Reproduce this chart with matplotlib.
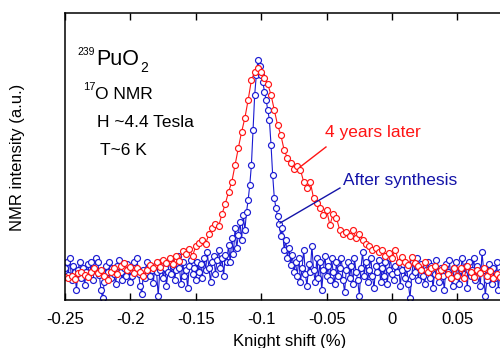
import numpy as np
import matplotlib
matplotlib.use("Agg")
import matplotlib.pyplot as plt

plt.rcParams['font.family'] = ['Liberation Sans', 'DejaVu Sans']
plt.rcParams['axes.unicode_minus'] = False

# Knight shift range of both spectra (%)
shift_start, shift_end = -0.25, 0.0825

# 17O NMR intensity, after synthesis (blue)
after_synthesis = [
    32, 38, 25, 42, 20, 34, 28, 10, 30, 38, 22, 32, 15, 28, 36, 24, 38, 20, 30, 42,
    38, 25, 10, 2, 18, 34, 28, 38, 22, 32, 26, 16, 34, 40, 28, 20, 32, 24, 36, 30,
    18, 24, 38, 32, 42, 26, 14, 6, 30, 22, 38, 32, 24, 30, 17, 34, 28, 4,
    30, 38, 22, 32, 14, 28, 40, 26, 34, 20, 30, 44, 32, 16, 38, 24, 30, 12, 34, 40,
    26, 32, 20, 38, 28,
    36, 22, 42, 30, 48, 32, 18, 38, 44, 26, 40, 50, 32, 42, 24, 45, 38,
    55, 38, 62, 46, 72, 52, 65, 78, 60, 85, 70, 88, 100, 115, 135, 170, 205, 225, 240, 234,
    225, 218, 208, 200, 190, 180, 155, 125, 102, 92, 84, 76, 64, 72, 50, 60, 42, 52, 35, 45,
    28,
    38, 24, 42, 18, 32, 50, 26, 14, 36, 28,
    54, 30, 18, 42, 22, 38, 10, 30, 44, 24,
    34, 20, 42, 28, 16, 38, 24, 32, 42, 20,
    8, 30, 38, 22, 34, 16, 42, 28, 20, 4,
    32, 48, 24, 38, 18, 30, 42, 24, 12, 34,
    28, 40, 18, 32, 24, 38, 16, 30, 42, 26,
    20, 34, 28, 38, 14, 30, 36, 22, 32, 16,
    2, 24, 38, 28, 42, 20, 32, 36, 24, 16,
    30, 38, 22, 34, 12, 26, 40, 28, 18, 32,
    24, 10, 36, 28, 40, 22, 14, 32, 38, 24,
    16, 30, 42, 26, 34, 12, 38, 24, 30, 42,
    20, 34, 28, 14, 48, 30, 4, 20, 36, 26,
    16, 32, 22, 38, 10, 28,
]

# 17O NMR intensity, 4 years later (red)
four_years = [
    23, 22, 24, 21, 27, 28, 25, 23, 28, 32,
    27, 30, 24, 20, 28, 32, 26, 34, 37, 30,
    33, 27, 32, 28, 24, 30, 35, 32, 38, 33,
    40, 37, 42, 36, 44, 39, 49, 46, 51, 44,
    54, 57, 60, 56, 66, 72, 76, 74, 86, 96,
    108, 118, 135, 152, 168, 182, 200, 220, 228, 232,
    228, 222, 216, 205, 190, 175, 165, 150, 142, 137,
    131, 134, 130, 118, 112, 118, 102, 97, 92, 85,
    90, 75, 86, 82, 70, 66, 68, 64, 70, 62,
    66, 60, 56, 54, 50, 52, 48, 50, 44, 47,
    42, 50, 38, 43, 38, 35, 43, 37, 34, 30,
    38, 28, 32, 34, 24, 30, 33, 26, 22, 32,
    24, 32, 22, 34, 28, 23, 30, 27, 32, 24,
    29, 22, 26, 23,
]

tick_values = [-0.25, -0.2, -0.15, -0.1, -0.05, 0, 0.05]
tick_labels = ['-0.25', '-0.2', '-0.15', '-0.1', '-0.05', '0', '0.05']

blue = '#1a1ad2'
blue_text = '#1414a8'
red = '#ff1414'

x_blue = np.linspace(shift_start, shift_end, len(after_synthesis))
x_red = np.linspace(shift_start, shift_end, len(four_years))

fig = plt.figure(figsize=(5, 3.48), dpi=100)
ax = fig.add_axes([0.13, 48 / 348, 0.9, 287 / 348])

ax.plot(x_blue, after_synthesis, '-o', color=blue, lw=0.8, ms=4.3,
        mfc='white', mec=blue, mew=0.85)
ax.plot(x_red, four_years, '-o', color=red, lw=0.8, ms=4.3,
        mfc='white', mec=red, mew=0.85)

ax.set_xlim(-0.25, 0.094)
ax.set_ylim(0, 287)
ax.set_xticks(tick_values)
ax.set_xticklabels(tick_labels)
ax.set_yticks([])
ax.tick_params(axis='x', direction='in', top=True, length=5, width=1,
               labelsize=12, pad=9)
for s in ['left', 'top', 'bottom']:
    ax.spines[s].set_linewidth(1.1)
ax.spines['right'].set_visible(False)
ax.set_xlabel('Knight shift (%)', fontsize=12, labelpad=5)

fig.text(18 / 500, 1 - 157 / 348, 'NMR intensity (a.u.)', rotation=90,
         ha='center', va='center', fontsize=12)

# sample labels, upper left
fig.text(77 / 500, 1 - 55 / 348, '239', fontsize=7.5, va='baseline')
fig.text(96 / 500, 1 - 65 / 348, 'PuO', fontsize=15.5, va='baseline')
fig.text(140 / 500, 1 - 72 / 348, '2', fontsize=10, va='baseline')
fig.text(83 / 500, 1 - 90 / 348, '17', fontsize=8, va='baseline')
fig.text(95 / 500, 1 - 99 / 348, 'O NMR', fontsize=12.5, va='baseline')
fig.text(97 / 500, 1 - 127 / 348, 'H ~4.4 Tesla', fontsize=12.5, va='baseline')
fig.text(100 / 500, 1 - 155 / 348, 'T~6 K', fontsize=12.5, va='baseline')

# annotations
ax.plot([-0.0703, -0.0505], [133, 153], color=red, lw=1)
ax.text(-0.0512, 163, '4 years later', color=red, fontsize=12.5, va='baseline')
ax.plot([-0.0856, -0.0398], [77, 112], color=blue_text, lw=1)
ax.text(-0.0375, 115, 'After synthesis', color=blue_text, fontsize=12.5,
        va='baseline')

fig.savefig('out.png', dpi=100)
